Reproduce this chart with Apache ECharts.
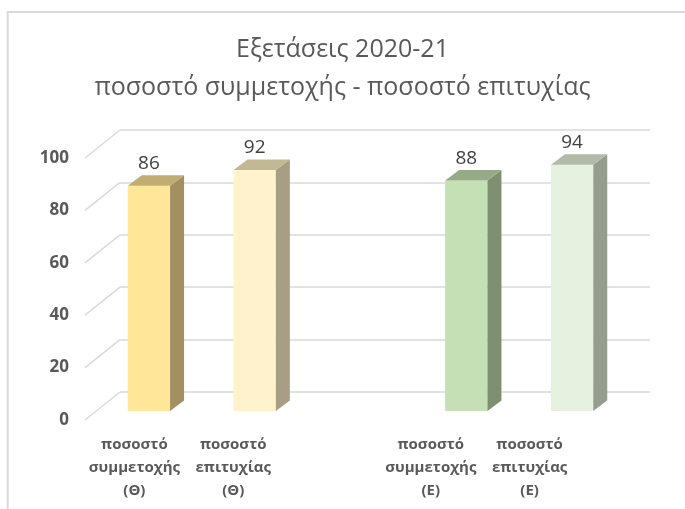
<!DOCTYPE html>
<html>
<head>
<meta charset="utf-8">
<script src="https://cdn.jsdelivr.net/npm/echarts@6/dist/echarts.min.js"></script>
<style>html,body{margin:0;padding:0;background:#fff}#c{width:685px;height:509px}</style>
</head>
<body>
<div id="c"></div>
<script>
// ---- data ----
const titleLines = ['Εξετάσεις 2020-21', 'ποσοστό συμμετοχής - ποσοστό επιτυχίας'];
const categories = ['ποσοστό\nσυμμετοχής\n(Θ)', 'ποσοστό\nεπιτυχίας\n(Θ)', '', 'ποσοστό\nσυμμετοχής\n(Ε)', 'ποσοστό\nεπιτυχίας\n(Ε)'];
const values = [86, 92, null, 88, 94];
const yTicks = [0, 20, 40, 60, 80, 100];
const frontColors = ['#FFE699', '#FFF2CC', null, '#C5E0B4', '#E6F1DF'];
const sideColors  = ['#A29060', '#A89E84', null, '#7F8F72', '#959D8F'];
const topColors   = ['#C1AC72', '#C3B894', null, '#95AB86', '#B2BBA8'];

// ---- styling constants ----
const FLOOR_DX = -35, FLOOR_DY = 28;   // back wall -> front plane
const BAR_DX = 14, BAR_DY = -10.5;     // bar depth
const grey = '#595959';
const gridColor = '#d9d9d9';

const chart = echarts.init(document.getElementById('c'), null, {renderer: 'canvas'});

const barData = values.map((v, i) => v == null ? null : [i, v, i]).filter(d => d);

const option = {
  animation: false,
  backgroundColor: '#fff',
  title: {
    text: titleLines.join('\n'),
    left: 'center',
    top: 26,
    padding: [5, 0, 5, 10],
    textStyle: {
      fontFamily: 'Open Sans',
      fontWeight: 'normal',
      fontSize: 25,
      lineHeight: 38,
      color: grey
    }
  },
  graphic: [{
    type: 'rect',
    shape: {x: 7.7, y: 12, width: 720, height: 540},
    style: {fill: null, stroke: gridColor, lineWidth: 2},
    silent: true
  }],
  grid: [
    {left: 120, width: 530, top: 130, height: 262},   // back wall
    {left: 96, width: 529, top: 149, height: 262},    // bar plane
    {left: 85, width: 494, top: 158, height: 262}     // front / label plane
  ],
  xAxis: [
    {gridIndex: 0, type: 'category', data: categories, show: false},
    {gridIndex: 1, type: 'category', data: categories, show: false},
    {gridIndex: 2, type: 'category', data: categories,
      axisLine: {show: false}, axisTick: {show: false},
      axisLabel: {interval: 0, margin: 13, color: grey, fontFamily: 'Open Sans',
        fontWeight: 'bold', fontSize: 15, lineHeight: 23}}
  ],
  yAxis: [
    {gridIndex: 0, type: 'value', min: 0, max: 100, interval: 20,
      axisLabel: {show: false}, axisLine: {show: false}, axisTick: {show: false},
      splitLine: {show: true, lineStyle: {color: gridColor, width: 1.5}}},
    {gridIndex: 1, type: 'value', min: 0, max: 100, interval: 20, show: false},
    {gridIndex: 2, type: 'value', min: 0, max: 100, interval: 20,
      axisLine: {show: false}, axisTick: {show: false}, splitLine: {show: false},
      axisLabel: {margin: 16, color: grey, fontFamily: 'Open Sans', fontWeight: 'bold', fontSize: 17}}
  ],
  series: [
    {
      type: 'custom',
      xAxisIndex: 0, yAxisIndex: 0,
      data: yTicks.map(t => [0, t]),
      silent: true,
      renderItem: function (params, api) {
        const p = api.coord([0, api.value(1)]);
        const x0 = params.coordSys.x;
        return {
          type: 'line',
          shape: {x1: x0, y1: p[1], x2: x0 + FLOOR_DX, y2: p[1] + FLOOR_DY},
          style: {stroke: gridColor, lineWidth: 1.5}
        };
      }
    },
    {
      type: 'custom',
      xAxisIndex: 1, yAxisIndex: 1,
      data: barData,
      silent: true,
      renderItem: function (params, api) {
        const idx = api.value(2);
        const top = api.coord([api.value(0), api.value(1)]);
        const base = api.coord([api.value(0), 0]);
        const w = api.size([1, 0])[0] * 0.4;
        const xl = top[0] - w / 2, xr = top[0] + w / 2;
        const yt = top[1], yb = base[1];
        return {
          type: 'group',
          children: [
            {type: 'rect', shape: {x: xl, y: yt, width: w, height: yb - yt},
              style: {fill: frontColors[idx]}},
            {type: 'polygon', shape: {points: [[xr, yt], [xr + BAR_DX, yt + BAR_DY], [xr + BAR_DX, yb + BAR_DY], [xr, yb]]},
              style: {fill: sideColors[idx]}},
            {type: 'polygon', shape: {points: [[xl, yt], [xl + BAR_DX, yt + BAR_DY], [xr + BAR_DX, yt + BAR_DY], [xr, yt]]},
              style: {fill: topColors[idx]}},
            {type: 'text', x: top[0], y: yt + BAR_DY - 2,
              style: {text: String(api.value(1)), align: 'center', verticalAlign: 'bottom',
                fill: '#404040', font: '19px "Open Sans"'}}
          ]
        };
      }
    }
  ]
};
chart.setOption(option);
</script>
</body>
</html>
